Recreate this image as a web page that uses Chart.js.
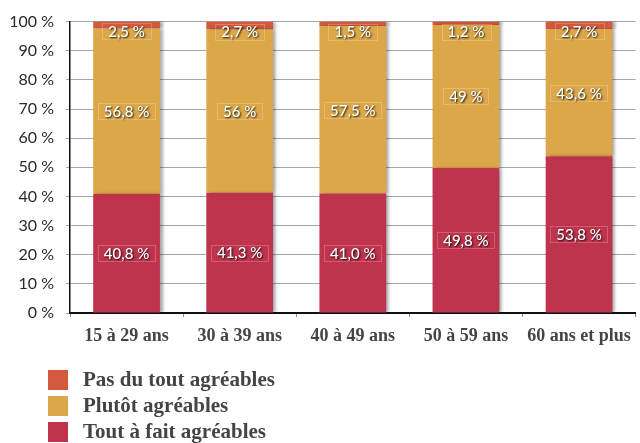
<!DOCTYPE html>
<html>
<head>
<meta charset="utf-8">
<script src="https://cdn.jsdelivr.net/npm/chart.js@4.4.1/dist/chart.umd.min.js"></script>
<style>
  html, body { margin: 0; padding: 0; background: #fff; }
  #wrap { width: 640px; height: 443px; }
</style>
</head>
<body>
<div id="wrap"><canvas id="ageChart" width="640" height="443"></canvas></div>
<script>
// categories and series (percent)
const ageGroups = ['15 à 29 ans', '30 à 39 ans', '40 à 49 ans', '50 à 59 ans', '60 ans et plus'];
const toutAFait = [40.8, 41.3, 41.0, 49.8, 53.8];
const plutot = [56.8, 56, 57.5, 49, 43.6];
const pasDuTout = [2.5, 2.7, 1.5, 1.2, 2.7];

// labels as printed on the bars
const toutAFaitText = ['40,8 %', '41,3 %', '41,0 %', '49,8 %', '53,8 %'];
const plutotText = ['56,8 %', '56 %', '57,5 %', '49 %', '43,6 %'];
const pasDuToutText = ['2,5 %', '2,7 %', '1,5 %', '1,2 %', '2,7 %'];

const yTicks = [0, 10, 20, 30, 40, 50, 60, 70, 80, 90, 100];

const serif = '"Liberation Serif", "DejaVu Serif", serif';
const sans = 'Lato, "Open Sans", sans-serif';

// bar shadow on the right side
const barShadow = {
    id: 'barShadow',
    beforeDatasetsDraw(chart) {
        const ctx = chart.ctx;
        ctx.save();
        ctx.shadowColor = 'rgba(0, 0, 0, 0.35)';
        ctx.shadowOffsetX = 3;
        ctx.shadowOffsetY = 0;
        ctx.shadowBlur = 3;
    },
    afterDatasetsDraw(chart) {
        chart.ctx.restore();
    }
};

// white value labels with dark shadow
const valueLabels = {
    id: 'valueLabels',
    afterDatasetsDraw(chart) {
        const ctx = chart.ctx;
        ctx.save();
        ctx.font = '500 15px ' + sans;
        ctx.textAlign = 'center';
        ctx.textBaseline = 'middle';
        chart.data.datasets.forEach((ds, i) => {
            const meta = chart.getDatasetMeta(i);
            meta.data.forEach((bar, j) => {
                const text = ds.labelText[j];
                const top = Math.min(bar.y, bar.base);
                const bottom = Math.max(bar.y, bar.base);
                let y = (top + bottom) / 2;
                if (y < top + 10) y = top + 10;
                const w = ctx.measureText(text).width + 12;
                ctx.shadowColor = 'transparent';
                ctx.strokeStyle = 'rgba(255, 255, 255, 0.22)';
                ctx.lineWidth = 1;
                ctx.strokeRect(Math.round(bar.x - w / 2) + 0.5, Math.round(y - 8) + 0.5, Math.round(w), 16);
                ctx.shadowColor = 'rgba(0, 0, 0, 0.9)';
                ctx.shadowOffsetX = 1;
                ctx.shadowOffsetY = 1;
                ctx.shadowBlur = 2;
                ctx.fillStyle = '#fff';
                ctx.fillText(text, bar.x, y + 1);
            });
        });
        ctx.restore();
    }
};

// vertical legend under the chart
const sideLegend = {
    id: 'sideLegend',
    afterDraw(chart) {
        const ctx = chart.ctx;
        ctx.save();
        ctx.font = 'bold 21px ' + serif;
        ctx.textBaseline = 'middle';
        ctx.textAlign = 'left';
        const order = [2, 1, 0];
        order.forEach((di, k) => {
            const ds = chart.data.datasets[di];
            const y = 380 + k * 26;
            ctx.fillStyle = ds.backgroundColor;
            ctx.fillRect(48, y - 10, 20, 20);
            ctx.fillStyle = '#444';
            ctx.fillText(ds.label, 83, y + 1);
        });
        ctx.restore();
    }
};

const datasets = [
    { label: 'Tout à fait agréables', data: toutAFait, labelText: toutAFaitText, backgroundColor: '#bf334d' },
    { label: 'Plutôt agréables', data: plutot, labelText: plutotText, backgroundColor: '#dca748' },
    { label: 'Pas du tout agréables', data: pasDuTout, labelText: pasDuToutText, backgroundColor: '#d35a3c' }
];

new Chart(document.getElementById('ageChart'), {
    type: 'bar',
    data: {
        labels: ageGroups,
        datasets: datasets.map(d => Object.assign({
            borderWidth: 0,
            barPercentage: 0.59,
            categoryPercentage: 1
        }, d))
    },
    options: {
        responsive: false,
        animation: false,
        layout: { padding: { top: 21, right: 2, bottom: 90, left: 0 } },
        plugins: {
            legend: { display: false },
            tooltip: { enabled: false }
        },
        scales: {
            x: {
                stacked: true,
                offset: true,
                border: { color: '#111', width: 2 },
                grid: { drawOnChartArea: false, offset: true, tickLength: 4, color: '#888' },
                ticks: {
                    color: '#444',
                    padding: 9,
                    maxRotation: 0,
                    autoSkip: false,
                    font: { family: serif, size: 18, weight: 'bold' }
                },
                afterFit(scale) { scale.height = 40; }
            },
            y: {
                stacked: true,
                min: 0,
                max: 100,
                afterBuildTicks(scale) { scale.ticks = yTicks.map(v => ({ value: v })); },
                border: { color: '#111', width: 1.5 },
                grid: { color: '#a6a6a6', tickLength: 4 },
                ticks: {
                    color: '#2a2a2a',
                    padding: 12,
                    font: { family: sans, size: 16 },
                    callback: v => v + ' %'
                },
                afterFit(scale) { scale.width = 70; }
            }
        }
    },
    plugins: [barShadow, valueLabels, sideLegend]
});
</script>
</body>
</html>
